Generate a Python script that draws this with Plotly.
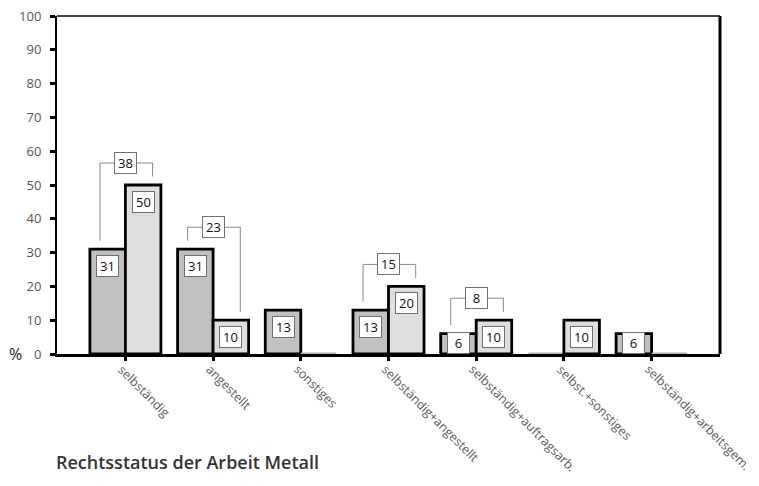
import plotly.graph_objects as go

categories = ["selbständig", "angestellt", "sonstiges", "selbständig+angestellt",
              "selbständig+auftragsarb.", "selbst.+sonstiges", "selbständig+arbeitsgem."]
series_a = [31, 31, 13, 13, 6, 0, 6]      # dark bars
series_b = [50, 10, 0, 20, 10, 10, 0]     # light bars
bracket_groups = [0, 1, 3, 4]
bracket_values = [38, 23, 15, 8]
y_ticks = [0, 10, 20, 30, 40, 50, 60, 70, 80, 90, 100]
title_text = "Rechtsstatus der Arbeit Metall"

W, H = 759, 486
L, R, T, B = 57, 39, 16, 132
plot_h = H - T - B
px_per_unit = plot_h / 100.0

DARK = "#c0c0c0"
LIGHT = "#dedede"
FONT = "Open Sans"
BOXFONT = dict(family=FONT, size=13, color="#111")

fig = go.Figure()

def line_colors(vals):
    return ["#000000" if v > 0 else "#b0b0b0" for v in vals]

fig.add_trace(go.Bar(x=categories, y=series_a, marker=dict(color=DARK,
                     line=dict(color=line_colors(series_a), width=2.8)),
                     hoverinfo="skip", showlegend=False))
fig.add_trace(go.Bar(x=categories, y=series_b, marker=dict(color=LIGHT,
                     line=dict(color=line_colors(series_b), width=2.8)),
                     hoverinfo="skip", showlegend=False))

annotations = []
shapes = []
bar_offset = 0.2025
for i, cat in enumerate(categories):
    for vals, sgn in ((series_a, -1), (series_b, 1)):
        v = vals[i]
        if v <= 0:
            continue
        shift = -min(17, v * px_per_unit - 11)
        annotations.append(dict(x=i + sgn * bar_offset, y=v, xref="x", yref="y",
                                text=str(v), showarrow=False, yshift=shift,
                                width=17, height=16, borderpad=2, borderwidth=1,
                                bordercolor="#707070", bgcolor="white", font=BOXFONT))
    # rotated category label
    annotations.append(dict(x=i, y=0, xref="x", yref="y", text=cat, showarrow=False,
                            textangle=45, xanchor="left", yanchor="top",
                            xshift=-12, yshift=-6, borderpad=0,
                            font=dict(family=FONT, size=12.5, color="#5a5a5a")))

# difference brackets
gray_line = dict(color="#8a8a8a", width=1)
for g, val in zip(bracket_groups, bracket_values):
    a, b = series_a[g], series_b[g]
    top = max(a, b) + 6.5
    xl, xr = g - 0.29, g + 0.31
    shapes.append(dict(type="line", xref="x", yref="y", x0=xl, x1=xl, y0=a + 2.5, y1=top, line=gray_line))
    shapes.append(dict(type="line", xref="x", yref="y", x0=xl, x1=xr, y0=top, y1=top, line=gray_line))
    shapes.append(dict(type="line", xref="x", yref="y", x0=xr, x1=xr, y0=top, y1=b + 2.5, line=gray_line))
    annotations.append(dict(x=g, y=top, xref="x", yref="y", text=str(val),
                            showarrow=False, width=17, height=16, borderpad=2,
                            borderwidth=1, bordercolor="#707070", bgcolor="white",
                            font=BOXFONT))

# frame (top and right)
shapes.append(dict(type="line", xref="paper", yref="paper", x0=0, x1=1, y0=1, y1=1,
                   line=dict(color="#444", width=2)))
shapes.append(dict(type="line", xref="paper", yref="paper", x0=1, x1=1, y0=0, y1=1,
                   line=dict(color="black", width=3)))

# "%" label and title
annotations.append(dict(xref="paper", yref="y", x=0, y=0, xshift=-33, text="%",
                        showarrow=False, xanchor="right", yanchor="middle",
                        font=dict(family=FONT, size=16, color="#222")))
annotations.append(dict(xref="paper", yref="paper", x=-3 / 663, y=-108 / plot_h,
                        text=title_text, showarrow=False, xanchor="left",
                        yanchor="middle",
                        font=dict(family=FONT, size=18, color="#333", weight=600)))

fig.update_layout(
    width=W, height=H,
    margin=dict(l=L, r=R, t=T, b=B, autoexpand=False),
    paper_bgcolor="white", plot_bgcolor="white",
    barmode="group", bargap=0.19, bargroupgap=0,
    annotations=annotations, shapes=shapes,
    xaxis=dict(type="category", range=[-0.78, 6.78], showline=True, linecolor="black",
               linewidth=3, ticks="outside", ticklen=4, tickwidth=3,
               tickcolor="black", showticklabels=False, showgrid=False,
               zeroline=False, automargin=False),
    yaxis=dict(range=[0, 100], tickvals=y_ticks, showline=True, linecolor="black",
               linewidth=2, ticks="outside", ticklen=5, tickwidth=3, tickcolor="black",
               showgrid=False, zeroline=False, automargin=False, ticklabelstandoff=6,
               ticklabeloverflow="allow",
               tickfont=dict(family=FONT, size=13, color="#555")),
)

fig.write_html("out.html", config={"displayModeBar": False},
               post_script="document.body.style.margin='0';document.body.style.overflow='hidden';")
